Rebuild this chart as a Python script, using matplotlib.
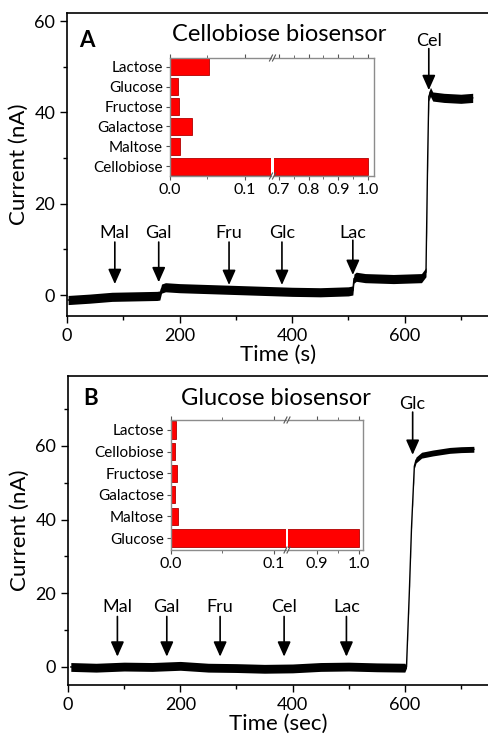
import matplotlib
matplotlib.use('Agg')
import matplotlib.pyplot as plt
from matplotlib.lines import Line2D
from matplotlib.ticker import MultipleLocator, FixedLocator

plt.rcParams['font.family'] = ['Lato', 'DejaVu Sans']

W, H = 489, 737

# ---- panel A : cellobiose biosensor trace
time_a = [2, 40, 80, 120, 160, 165, 168, 175, 200, 250, 300, 350, 400, 450, 500, 508, 510, 514, 530, 580, 630, 638, 641, 643, 646, 650, 670, 700, 721]
cur_a = [-1.1, -0.8, -0.4, -0.3, -0.2, -0.1, 1.4, 1.7, 1.5, 1.3, 1.1, 0.9, 0.7, 0.6, 0.8, 1.0, 3.6, 4.0, 3.7, 3.5, 3.7, 5.0, 30, 43.5, 44.5, 43.5, 43.2, 43.0, 43.2]
band_a = [1.0] * len(time_a)

inj_a = ['Mal', 'Gal', 'Fru', 'Glc', 'Lac', 'Cel']
inj_t_a = [85, 163, 288, 382, 508, 643]
inj_tip_a = [2.4, 2.8, 2.2, 2.2, 4.4, 44.9]
inj_tail_a = [11.6, 11.6, 11.6, 11.6, 12.0, 54.0]
inj_txt_a = [12.4, 12.4, 12.4, 12.4, 12.6, 54.6]

sugars_a = ['Cellobiose', 'Maltose', 'Galactose', 'Fructose', 'Glucose', 'Lactose']
resp_a = [1.0, 0.0137, 0.029, 0.0116, 0.0107, 0.052]

# ---- panel B : glucose biosensor trace
time_b = [5, 50, 100, 150, 200, 250, 300, 350, 400, 450, 500, 550, 600, 603, 608, 612, 617, 620, 630, 650, 680, 700, 723]
cur_b = [0.0, -0.2, 0.1, 0.0, 0.3, -0.2, -0.3, -0.5, -0.4, 0.0, 0.1, -0.1, -0.2, 0.0, 20, 38, 54.5, 56.2, 57.5, 58.1, 58.8, 59.0, 59.1]
band_b = [1.2] * 13 + [0.3, 0.3, 0.3, 0.6, 0.8, 0.8, 0.8, 0.8, 0.8, 0.8]

inj_b = ['Mal', 'Gal', 'Fru', 'Cel', 'Lac', 'Glc']
inj_t_b = [88, 176, 271, 385, 496, 614]
inj_tip_b = [2.8, 2.8, 2.8, 2.8, 2.8, 57.6]
inj_tail_b = [13.7, 13.7, 13.7, 13.7, 13.7, 69.2]
inj_txt_b = [14.8, 14.8, 14.8, 14.8, 14.8, 70.0]

sugars_b = ['Glucose', 'Maltose', 'Galactose', 'Fructose', 'Cellobiose', 'Lactose']
resp_b = [1.0, 0.0071, 0.0042, 0.0055, 0.0042, 0.0045]


def frac(x0, y0, x1, y1):
    # pixel box -> figure fraction [left, bottom, width, height]
    return [x0 / W, 1 - y1 / H, (x1 - x0) / W, (y1 - y0) / H]


def main_panel(ax, t, cur, band, ylim, yminor, xlabel, names, xs, tips, tails, txts):
    lo = [c - b for c, b in zip(cur, band)]
    hi = [c + b for c, b in zip(cur, band)]
    ax.fill_between(t, lo, hi, color='black', lw=0)
    ax.plot(t, cur, color='black', lw=1.0)
    ax.set_xlim(0, 750)
    ax.set_ylim(*ylim)
    ax.xaxis.set_major_locator(MultipleLocator(200))
    ax.xaxis.set_minor_locator(MultipleLocator(100))
    ax.yaxis.set_major_locator(MultipleLocator(20))
    ax.yaxis.set_minor_locator(MultipleLocator(yminor))
    ax.tick_params(which='both', direction='out', width=1.0, labelsize=13)
    ax.tick_params(which='major', length=5)
    ax.tick_params(which='minor', length=3)
    ax.spines['right'].set_visible(False)
    for s in ['left', 'bottom', 'top']:
        ax.spines[s].set_linewidth(1.2)
    ax.set_xlabel(xlabel, fontsize=16, labelpad=1)
    ax.set_ylabel('Current (nA)', fontsize=16, labelpad=4)
    for n, x, tp, tl, ty in zip(names, xs, tips, tails, txts):
        ax.annotate('', xy=(x, tp), xytext=(x, tl),
                    arrowprops=dict(arrowstyle='-|>,head_length=0.45,head_width=0.2',
                                    color='black', lw=1.2, mutation_scale=20,
                                    shrinkA=0, shrinkB=0))
        ax.text(x, ty, n, ha='center', va='baseline', fontsize=13)


def inset(fig, box_l, box_r, y0, y1, sugars, resp, xl_left, xl_right,
          left_major, left_minor, right_major, right_minor, ylim, bh):
    axl = fig.add_axes(frac(box_l[0], y0, box_l[1], y1))
    axr = fig.add_axes(frac(box_r[0], y0, box_r[1], y1))
    pos = list(range(len(sugars)))
    for ax in (axl, axr):
        ax.barh(pos, resp, height=bh, color='#ff0000', edgecolor='#b00000', lw=0.6)
        ax.set_ylim(*ylim)
        for s in ax.spines.values():
            s.set_color('#8c8c8c')
            s.set_linewidth(1.0)
        ax.tick_params(which='both', direction='out', color='#555555', labelsize=11.5,
                       top=True, pad=2)
        ax.tick_params(which='major', length=3)
        ax.tick_params(which='minor', length=2)
    axl.tick_params(axis='y', labelsize=11)
    axl.set_xlim(*xl_left)
    axr.set_xlim(*xl_right)
    axl.spines['right'].set_visible(False)
    axr.spines['left'].set_visible(False)
    axl.set_yticks(pos)
    axl.set_yticklabels(sugars)
    axr.set_yticks([])
    axl.xaxis.set_major_locator(FixedLocator(left_major))
    axl.xaxis.set_minor_locator(FixedLocator(left_minor))
    axr.xaxis.set_major_locator(FixedLocator(right_major))
    axr.xaxis.set_minor_locator(FixedLocator(right_minor))
    axl.set_xticklabels(['%.1f' % v for v in left_major])
    axr.set_xticklabels(['%.1f' % v for v in right_major])
    # break marks
    xm = (box_l[1] + box_r[0]) / 2
    for yy in (y0, y1):
        for dx in (-1.5, 1.5):
            fig.add_artist(Line2D([(xm + dx - 1.5) / W, (xm + dx + 1.5) / W],
                                  [1 - (yy + 3) / H, 1 - (yy - 3) / H],
                                  color='#555555', lw=0.8))


fig = plt.figure(figsize=(W / 100, H / 100), dpi=100)

axA = fig.add_axes(frac(67, 13, W, 316))
main_panel(axA, time_a, cur_a, band_a, (-4.6, 61.8), 10, 'Time (s)',
           inj_a, inj_t_a, inj_tip_a, inj_tail_a, inj_txt_a)
axA.text(21, 54.4, 'A', fontsize=16, fontweight='bold', ha='left', va='baseline')
axA.text(186, 55.7, 'Cellobiose biosensor', fontsize=17, ha='left', va='baseline')

axB = fig.add_axes(frac(68, 376, W, 685))
main_panel(axB, time_b, cur_b, band_b, (-4.9, 79), 10, 'Time (sec)',
           inj_b, inj_t_b, inj_tip_b, inj_tail_b, inj_txt_b)
axB.text(26.7, 71.2, 'B', fontsize=16, fontweight='bold', ha='left', va='baseline')
axB.text(202, 71.2, 'Glucose biosensor', fontsize=17, ha='left', va='baseline')

inset(fig, (170, 271), (274, 374), 58, 176, sugars_a, resp_a,
      (0, 0.1347), (0.6832, 1.0202), [0.0, 0.1], [0.05],
      [0.7, 0.8, 0.9, 1.0], [0.75, 0.85, 0.95], (-0.5, 5.45), 0.85)
inset(fig, (171, 286), (288, 363.3), 420, 550, sugars_b, resp_b,
      (0, 0.1117), (0.8326, 1.0094), [0.0, 0.1], [0.05],
      [0.9, 1.0], [0.95], (-0.55, 5.46), 0.8)

fig.savefig('out.png', dpi=100)
